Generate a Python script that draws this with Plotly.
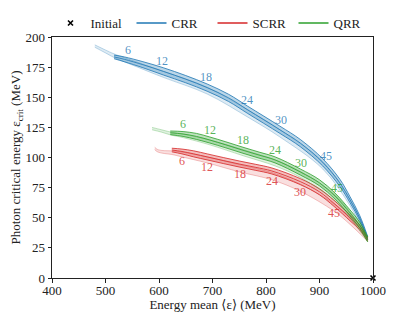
import plotly.graph_objects as go

# ---------------- data ----------------
# CRR (blue)
crr_x = [516, 535, 570, 608, 650, 690, 730, 766, 826, 864, 906, 938, 957, 975, 990]
crr_y = [183.5, 181.5, 177, 171.5, 165, 158, 149.5, 139.5, 123, 112, 96, 79, 65, 50, 33]
crr_hw = [1.5, 2, 2.5, 3, 3, 3, 3, 3, 3, 3, 3, 3, 2.5, 2, 1.5]
crr_lx = [480, 500, 516, 560, 608, 690, 766, 826, 906, 957, 990]
crr_ly = [192.5, 188, 184.5, 177, 169, 155.5, 136.5, 120, 93.5, 62.5, 33]
crr_lhw = [1, 1.2, 1.5, 2, 2.5, 2.8, 3, 3, 3, 2.5, 1.5]
crr_tx = [542, 606, 688, 765, 828, 912]
crr_ty = [180.8, 171.8, 158.3, 139.8, 122.5, 93]

# SCRR (red)
scrr_x = [624, 643, 665, 690, 720, 751, 781, 811, 864, 900, 927, 957, 975, 990]
scrr_y = [106.2, 105, 103, 100.5, 97.5, 94.5, 91.8, 88.8, 80, 71.5, 62, 50, 42, 32]
scrr_hw = [1.5, 2, 2.5, 2.5, 2.5, 2.5, 2.5, 2.5, 2.5, 2.5, 2.5, 2.5, 2, 1.5]
scrr_lx = [592, 598, 610, 624, 643, 690, 751, 811, 864, 927, 957, 990]
scrr_ly = [107.5, 105.5, 104.5, 104, 102.5, 98, 91, 84.5, 75, 58.5, 47, 32]
scrr_lhw = [1, 1, 1.2, 1.5, 2, 2.5, 3, 3, 3, 3, 2.5, 1.5]
scrr_tx = [643, 690, 751, 811, 864, 927]
scrr_ty = [105, 100.5, 94.5, 88.8, 80, 62]

# QRR (green)
qrr_x = [621, 645, 670, 695, 725, 757, 787, 817, 864, 900, 929, 957, 975, 990]
qrr_y = [120.5, 119.5, 117.5, 114.5, 110.5, 106, 102, 98, 88, 79, 68, 54, 44, 32]
qrr_hw = [1.5, 2, 2.5, 2.5, 2.5, 2.5, 2.5, 2.5, 2.5, 2.5, 2.5, 2.5, 2.5, 2]
qrr_lx = [587, 605, 621, 645, 695, 757, 817, 864, 929, 957, 990]
qrr_ly = [124, 122, 120, 118, 112.5, 104, 95.5, 86, 66.5, 52.5, 32]
qrr_lhw = [1, 1, 1.2, 1.5, 2, 2.5, 2.5, 2.5, 2.5, 2.5, 2]
qrr_tx = [645, 695, 757, 817, 866, 933]
qrr_ty = [119.5, 114.5, 106, 98, 87.5, 66]

times = ["6", "12", "18", "24", "30", "45"]

initial_x = [1000]
initial_y = [0]

# ---------------- figure ----------------
FONT = "Liberation Serif, Times New Roman, DejaVu Serif, serif"
fig = go.Figure()

series = [
    ("CRR", (31, 119, 180), crr_x, crr_y, crr_hw, crr_lx, crr_ly, crr_lhw, crr_tx, crr_ty, 10, 2),
    ("SCRR", (214, 39, 40), scrr_x, scrr_y, scrr_hw, scrr_lx, scrr_ly, scrr_lhw, scrr_tx, scrr_ty, -10, 3),
    ("QRR", (44, 160, 44), qrr_x, qrr_y, qrr_hw, qrr_lx, qrr_ly, qrr_lhw, qrr_tx, qrr_ty, 10, 4),
]


def rgba(c, a):
    return f"rgba({c[0]},{c[1]},{c[2]},{a})"


for name, c, x, y, hw, lx, ly, lhw, tx, ty, shift, rank in series:
    # light band
    lo = [v - h for v, h in zip(ly, lhw)]
    hi = [v + h for v, h in zip(ly, lhw)]
    fig.add_trace(go.Scatter(x=lx, y=lo, mode="lines", line=dict(color=rgba(c, 0.35), width=0.8, shape="spline"),
                             showlegend=False, hoverinfo="skip"))
    fig.add_trace(go.Scatter(x=lx, y=hi, mode="lines", line=dict(color=rgba(c, 0.35), width=0.8, shape="spline"),
                             fill="tonexty", fillcolor=rgba(c, 0.15), showlegend=False, hoverinfo="skip"))
    # dark band
    lo = [v - h for v, h in zip(y, hw)]
    hi = [v + h for v, h in zip(y, hw)]
    fig.add_trace(go.Scatter(x=x, y=lo, mode="lines", line=dict(color=rgba(c, 0.9), width=0.9, shape="spline"),
                             showlegend=False, hoverinfo="skip"))
    fig.add_trace(go.Scatter(x=x, y=hi, mode="lines", line=dict(color=rgba(c, 0.9), width=0.9, shape="spline"),
                             fill="tonexty", fillcolor=rgba(c, 0.3), showlegend=False, hoverinfo="skip"))
    fig.add_trace(go.Scatter(x=x, y=y, mode="lines", line=dict(color=rgba(c, 0.9), width=0.9, shape="spline"),
                             name=name, showlegend=False, hoverinfo="skip"))
    # legend entry
    fig.add_trace(go.Scatter(x=[None], y=[None], mode="lines", line=dict(color=rgba(c, 1), width=1.6),
                             name=name, legendrank=rank))
    # time labels
    for t, xx, yy in zip(times, tx, ty):
        fig.add_annotation(x=xx, y=yy, text=t, showarrow=False, yshift=shift,
                           font=dict(family=FONT, size=12, color=rgba(c, 0.8)))

fig.add_trace(go.Scatter(x=initial_x, y=initial_y, mode="markers", name="Initial",
                         marker=dict(symbol="x-thin", size=5, color="black", line=dict(width=1.6, color="black")),
                         cliponaxis=False, legendrank=1))

axis_common = dict(showline=True, linecolor="#222", linewidth=1, mirror=True, ticks="outside",
                   ticklen=3.5, tickwidth=1, tickcolor="#222", showgrid=False, zeroline=False,
                   automargin=False, tickfont=dict(family=FONT, size=13, color="#222"))

# the page body adds an 8px offset; figure is sized so the plot area lands where the reference has it
fig.update_layout(
    width=407, height=304,
    margin=dict(l=44, r=42, t=29, b=34, autoexpand=False),
    plot_bgcolor="white", paper_bgcolor="white",
    font=dict(family=FONT, size=13, color="#222"),
    xaxis=dict(range=[400, 1000], tickvals=[400, 500, 600, 700, 800, 900, 1000],
               ticklabelstandoff=-3,
               title=dict(text="Energy mean ⟨ε⟩ (MeV)", standoff=3, font=dict(family=FONT, size=13)),
               **axis_common),
    yaxis=dict(range=[0, 200], tickvals=[0, 25, 50, 75, 100, 125, 150, 175, 200],
               title=dict(text="Photon critical energy ε<sub>crit</sub> (MeV)", standoff=2,
                          font=dict(family=FONT, size=13)),
               **axis_common),
    legend=dict(orientation="h", x=0.5, xanchor="center", y=1.058, yanchor="middle",
                font=dict(family=FONT, size=13), itemwidth=30, entrywidth=36, bgcolor="rgba(0,0,0,0)",
                tracegroupgap=0, traceorder="normal"),
)

fig.write_html("out.html")
